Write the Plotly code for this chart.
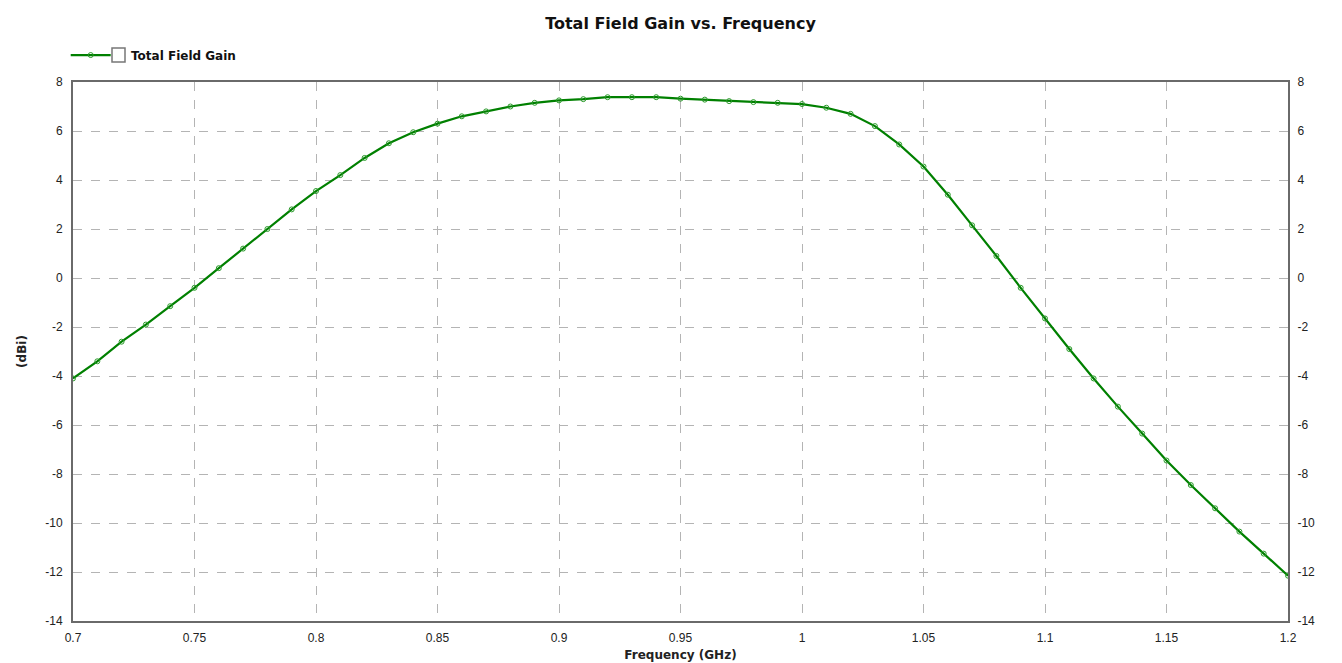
import plotly.graph_objects as go

freq_ghz = [0.70, 0.71, 0.72, 0.73, 0.74, 0.75, 0.76, 0.77, 0.78, 0.79,
            0.80, 0.81, 0.82, 0.83, 0.84, 0.85, 0.86, 0.87, 0.88, 0.89,
            0.90, 0.91, 0.92, 0.93, 0.94, 0.95, 0.96, 0.97, 0.98, 0.99,
            1.00, 1.01, 1.02, 1.03, 1.04, 1.05, 1.06, 1.07, 1.08, 1.09,
            1.10, 1.11, 1.12, 1.13, 1.14, 1.15, 1.16, 1.17, 1.18, 1.19, 1.20]
gain_dbi = [-4.1, -3.4, -2.6, -1.9, -1.15, -0.4, 0.4, 1.2, 2.0, 2.8,
            3.55, 4.2, 4.9, 5.5, 5.95, 6.3, 6.6, 6.8, 7.0, 7.15,
            7.25, 7.3, 7.38, 7.38, 7.38, 7.32, 7.28, 7.22, 7.18, 7.15,
            7.1, 6.95, 6.7, 6.2, 5.45, 4.55, 3.4, 2.15, 0.9, -0.4,
            -1.65, -2.9, -4.1, -5.25, -6.35, -7.45, -8.45, -9.4, -10.35, -11.25, -12.15]

x_ticks = [0.7, 0.75, 0.8, 0.85, 0.9, 0.95, 1.0, 1.05, 1.1, 1.15, 1.2]
x_tick_labels = ["0.7", "0.75", "0.8", "0.85", "0.9", "0.95", "1", "1.05", "1.1", "1.15", "1.2"]
y_ticks = [8, 6, 4, 2, 0, -2, -4, -6, -8, -10, -12, -14]
y_tick_labels = ["8", "6", "4", "2", "0", "-2", "-4", "-6", "-8", "-10", "-12", "-14"]

FONT = "Liberation Sans, Arial, sans-serif"
BOLD_FONT = "DejaVu Sans, Verdana, sans-serif"
GREEN = "#008000"

fig = go.Figure()
fig.add_trace(go.Scatter(
    x=freq_ghz, y=gain_dbi, mode="lines+markers",
    name="&nbsp;&nbsp;&nbsp;&nbsp;<b>Total Field Gain</b>",
    line=dict(color=GREEN, width=2.2),
    marker=dict(symbol="circle-open", size=5, color="#2a9a2a", line=dict(width=1)),
))
fig.add_trace(go.Scatter(
    x=freq_ghz, y=gain_dbi, mode="lines", yaxis="y2", showlegend=False,
    line=dict(color="rgba(0,0,0,0)"), hoverinfo="skip",
))

axis_common = dict(showgrid=True, gridcolor="#b4b4b4", griddash="dash", gridwidth=1,
                   showline=True, linecolor="#6a6a6a", linewidth=2, zeroline=False,
                   automargin=False,
                   ticks="", tickfont=dict(family=FONT, size=12, color="#222"))

# legend checkbox (decoration)
fig.add_shape(type="rect", xref="paper", yref="paper",
              x0=(112 - 73) / 1215, x1=(125 - 73) / 1215,
              y0=(621 - 62) / 539, y1=(621 - 48) / 539,
              line=dict(color="#777", width=1.5), fillcolor="white")

fig.update_layout(
    width=1342, height=663,
    margin=dict(l=73, r=54, t=82, b=42),
    paper_bgcolor="white", plot_bgcolor="white",
    title=dict(text="<b>Total Field Gain vs. Frequency</b>", x=0.5, xref="paper",
               y=0.965, yanchor="middle",
               font=dict(family=BOLD_FONT, size=16, color="#111")),
    xaxis=dict(range=[0.7, 1.2], tickvals=x_ticks, ticktext=x_tick_labels,
               mirror=True, ticklabelstandoff=5,
               title=dict(text="<b>Frequency (GHz)</b>", standoff=6,
                          font=dict(family=BOLD_FONT, size=12, color="#222")),
               **axis_common),
    yaxis=dict(range=[-14, 8], tickvals=y_ticks, ticktext=y_tick_labels,
               mirror=False, ticklabelstandoff=6,
               title=dict(text="<b>(dBi)</b>", standoff=16,
                          font=dict(family=BOLD_FONT, size=12, color="#222")),
               **axis_common),
    yaxis2=dict(range=[-14, 8], tickvals=y_ticks, ticktext=y_tick_labels,
                overlaying="y", side="right",
                showgrid=False, showline=True, linecolor="#6a6a6a", linewidth=2,
                zeroline=False, ticks="", ticklabelstandoff=5, automargin=False,
                tickfont=dict(family=FONT, size=12, color="#222")),
    legend=dict(x=-0.006, xanchor="left", y=1.05, yanchor="middle",
                orientation="h", bgcolor="rgba(0,0,0,0)",
                font=dict(family=BOLD_FONT, size=12, color="#111"),
                itemwidth=40),
    showlegend=True,
)

fig.write_html("out.html")
